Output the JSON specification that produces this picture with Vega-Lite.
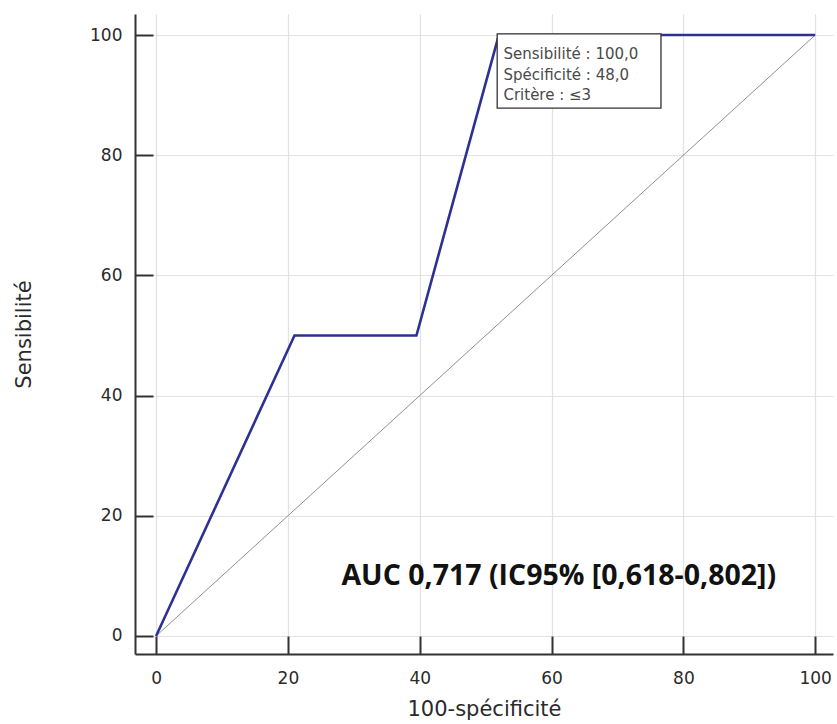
{
  "$schema": "https://vega.github.io/schema/vega-lite/v6.json",
  "autosize": "none",
  "width": 698,
  "height": 640,
  "padding": {"left": 135, "top": 14, "right": 4, "bottom": 70},
  "background": "white",
  "config": {
    "view": {"stroke": null},
    "font": "DejaVu Sans",
    "axis": {
      "domainColor": "#333333",
      "domainWidth": 2,
      "tickColor": "#333333",
      "tickWidth": 2,
      "tickSize": -18,
      "gridColor": "#e2e2e2",
      "gridWidth": 1.2,
      "labelFont": "DejaVu Sans",
      "labelFontSize": 17,
      "labelColor": "#2a2a2a",
      "titleFont": "DejaVu Sans",
      "titleFontSize": 21,
      "titleFontWeight": "normal",
      "titleColor": "#2a2a2a",
      "titleBaseline": "middle"
    }
  },
  "datasets": {
    "diag": [{"fpr": 0, "tpr": 0}, {"fpr": 100, "tpr": 100}],
    "roc": [
      {"fpr": 0, "tpr": 0},
      {"fpr": 21, "tpr": 50},
      {"fpr": 39.5, "tpr": 50},
      {"fpr": 52, "tpr": 100},
      {"fpr": 100, "tpr": 100}
    ],
    "box": [{"x1": 51.75, "x2": 76.6, "y1": 100.2, "y2": 87.85}],
    "boxtext": [
      {"x": 52.7, "y": 96.8, "label": "Sensibilité : 100,0"},
      {"x": 52.7, "y": 93.4, "label": "Spécificité : 48,0"},
      {"x": 52.7, "y": 90.0, "label": "Critère : ≤3"}
    ],
    "auc": [{"x": 61.1, "y": 10.0, "label": "AUC 0,717 (IC95% [0,618-0,802])"}]
  },
  "layer": [
    {
      "data": {"name": "diag"},
      "mark": {"type": "line", "color": "#8f8f8f", "strokeWidth": 1},
      "encoding": {
        "x": {
          "field": "fpr", "type": "quantitative",
          "scale": {"domain": [-3.2, 102.7], "nice": false, "zero": false},
          "axis": {"values": [0, 20, 40, 60, 80, 100], "title": "100-spécificité", "labelPadding": 34, "titleY": 55, "grid": true}
        },
        "y": {
          "field": "tpr", "type": "quantitative",
          "scale": {"domain": [-3, 103.5], "nice": false, "zero": false},
          "axis": {"values": [0, 20, 40, 60, 80, 100], "title": "Sensibilité", "labelPadding": 31, "titleX": -111, "grid": true}
        }
      }
    },
    {
      "data": {"name": "roc"},
      "mark": {"type": "line", "color": "#2e3192", "strokeWidth": 2.6},
      "encoding": {
        "x": {"field": "fpr", "type": "quantitative"},
        "y": {"field": "tpr", "type": "quantitative"}
      }
    },
    {
      "data": {"name": "box"},
      "mark": {"type": "rect", "fill": "white", "stroke": "#333333", "strokeWidth": 1.3},
      "encoding": {
        "x": {"field": "x1", "type": "quantitative"},
        "x2": {"field": "x2"},
        "y": {"field": "y1", "type": "quantitative"},
        "y2": {"field": "y2"}
      }
    },
    {
      "data": {"name": "boxtext"},
      "mark": {"type": "text", "align": "left", "baseline": "middle", "fontSize": 15, "color": "#4a4a4a", "font": "DejaVu Sans"},
      "encoding": {
        "x": {"field": "x", "type": "quantitative"},
        "y": {"field": "y", "type": "quantitative"},
        "text": {"field": "label"}
      }
    },
    {
      "data": {"name": "auc"},
      "mark": {"type": "text", "align": "center", "baseline": "middle", "fontSize": 28.5, "fontWeight": "bold", "color": "#111111", "font": "Open Sans"},
      "encoding": {
        "x": {"field": "x", "type": "quantitative"},
        "y": {"field": "y", "type": "quantitative"},
        "text": {"field": "label"}
      }
    }
  ]
}
